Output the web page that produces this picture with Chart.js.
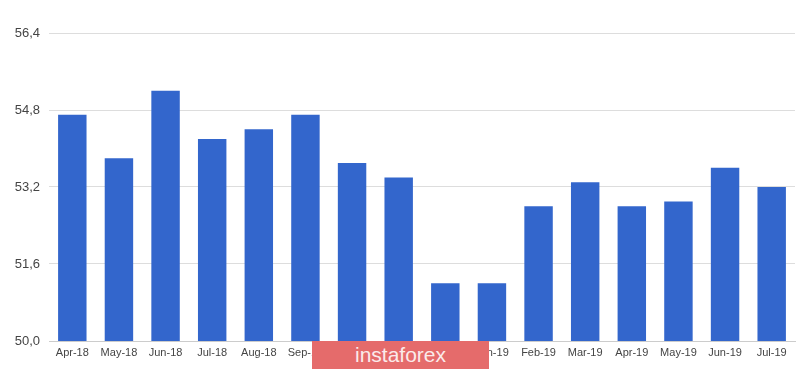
<!DOCTYPE html>
<html>
<head>
<meta charset="utf-8">
<script src="https://cdn.jsdelivr.net/npm/chart.js@4/dist/chart.umd.min.js"></script>
<style>
  html, body { margin: 0; padding: 0; background: #fff; }
  #wrap { position: relative; width: 800px; height: 372px; }
  #watermark {
    position: absolute; left: 312px; top: 341px; width: 177px; height: 28px;
    background: #e56b6b; color: #fbeaea; font-family: "Liberation Sans", Arial, sans-serif;
    font-size: 21px; line-height: 28px; text-align: center; letter-spacing: 0px;
  }
</style>
</head>
<body>
<div id="wrap">
  <canvas id="myBarChart" width="800" height="372"></canvas>
  <div id="watermark">instaforex</div>
</div>
<script>
// months and index values
var months = ["Apr-18", "May-18", "Jun-18", "Jul-18", "Aug-18", "Sep-18", "Oct-18", "Nov-18",
              "Dec-18", "Jan-19", "Feb-19", "Mar-19", "Apr-19", "May-19", "Jun-19", "Jul-19"];
var values = [54.7, 53.8, 55.2, 54.2, 54.4, 54.7, 53.7, 53.4,
              51.2, 51.2, 52.8, 53.3, 52.8, 52.9, 53.6, 53.2];
var yMin = 50.0;
var yMax = 56.4;
var yStep = 1.6;

function makeChart(labels, data) {
    var ctx = document.getElementById("myBarChart").getContext("2d");

    var myBarChart = new Chart(ctx, {
        type: 'bar',
        data: {
            labels: labels,
            datasets: [{
                data: data,
                backgroundColor: "#3366cc",
                borderWidth: 0,
                categoryPercentage: 1.0,
                barPercentage: 0.61
            }]
        },
        options: {
            responsive: false,
            animation: false,
            layout: { padding: { top: 33, right: 5, left: 0, bottom: 0 } },
            plugins: { legend: { display: false }, tooltip: { enabled: false } },
            scales: {
                x: {
                    grid: { display: false, drawTicks: false },
                    border: { display: true, color: "#cccccc" },
                    ticks: {
                        color: "#444444",
                        font: { family: "'Liberation Sans', Arial, sans-serif", size: 11 },
                        maxRotation: 0,
                        autoSkip: false,
                        padding: 5
                    },
                    afterFit: function (scale) { scale.height = 31; }
                },
                y: {
                    min: yMin,
                    max: yMax,
                    border: { display: false },
                    grid: { color: "#dddddd", drawTicks: false },
                    ticks: {
                        stepSize: yStep,
                        color: "#444444",
                        padding: 9,
                        font: { family: "'Liberation Sans', Arial, sans-serif", size: 13 },
                        callback: function (v) { return v.toFixed(1).replace(".", ","); }
                    },
                    afterFit: function (scale) { scale.width = 49; }
                }
            }
        }
    });
    return myBarChart;
}

makeChart(months, values);
</script>
</body>
</html>
